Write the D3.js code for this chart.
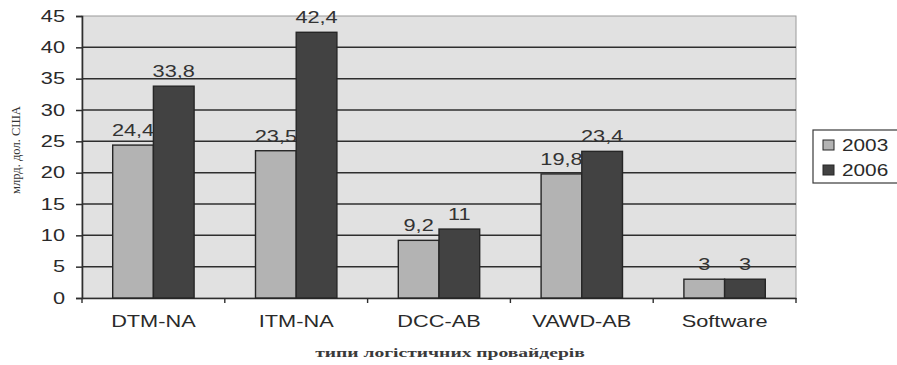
<!DOCTYPE html>
<html>
<head>
<meta charset="utf-8">
<script src="https://cdn.jsdelivr.net/npm/d3@7"></script>
<style>
  html, body { margin: 0; padding: 0; background: #fff; }
  svg { display: block; }
</style>
</head>
<body>
<svg id="chart" width="897" height="365"></svg>
<script>
// Logistics provider market volumes, billion USD
const categories = ["DTM-NA", "ITM-NA", "DCC-AB", "VAWD-AB", "Software"];
const seriesNames = ["2003", "2006"];
const values2003 = [24.4, 23.5, 9.2, 19.8, 3];
const values2006 = [33.8, 42.4, 11, 23.4, 3];
const yTicks = [0, 5, 10, 15, 20, 25, 30, 35, 40, 45];
const seriesColors = ["#b3b3b3", "#424242"];

const svg = d3.select("#chart");
const margin = { left: 82, right: 101, top: 16, bottom: 67 };
const W = 897, H = 365;
const x0 = margin.left, x1 = W - margin.right;
const yTop = margin.top, yBot = H - margin.bottom;

const x = d3.scaleBand().domain(categories).range([x0, x1]).paddingInner(0).paddingOuter(0);
const y = d3.scaleLinear().domain([0, 45]).range([yBot, yTop]);
// Bars take 81/143 of each slot, centered
const groupFrac = 0.57;
const xs = d3.scaleBand().domain(seriesNames).range([0, x.bandwidth() * groupFrac]);
const groupOffset = (x.bandwidth() * (1 - groupFrac)) / 2;

const font = "'Liberation Sans', Arial, sans-serif";
const serif = "'Liberation Serif', 'DejaVu Serif', serif";
const stretch = 1.36; // wide lettering, stretched horizontally about its anchor

// Stretch a text element horizontally around its own x anchor
function widen(sel, s) {
  sel.each(function () {
    const t = d3.select(this);
    const ax = +(t.attr("x") || 0);
    t.attr("transform", `translate(${ax},0) scale(${s},1) translate(${-ax},0)`);
  });
}

// Plot background
svg.append("rect")
  .attr("x", x0).attr("y", yTop)
  .attr("width", x1 - x0).attr("height", yBot - yTop)
  .attr("fill", "#e1e1e1")
  .attr("stroke", "#9a9a9a").attr("stroke-width", 1);

// Gridlines
svg.append("g")
  .selectAll("line")
  .data(yTicks.filter(d => d > 0 && d < 45))
  .join("line")
  .attr("x1", x0).attr("x2", x1)
  .attr("y1", d => y(d)).attr("y2", d => y(d))
  .attr("stroke", "#2e2e2e").attr("stroke-width", 1.5);

// Y axis
const yAxis = svg.append("g")
  .attr("transform", `translate(${x0},0)`)
  .call(d3.axisLeft(y).tickValues(yTicks).tickSize(6).tickPadding(11));
yAxis.select(".domain").attr("stroke", "#2e2e2e").attr("stroke-width", 1.6);
yAxis.selectAll(".tick line").attr("stroke", "#2e2e2e").attr("stroke-width", 1.5);
yAxis.selectAll(".tick text")
  .attr("font-family", font).attr("font-size", 16).attr("fill", "#2a2a2a")
  .call(widen, stretch);

// X axis
const xAxis = svg.append("g")
  .attr("transform", `translate(0,${yBot})`)
  .call(d3.axisBottom(x).tickSize(0).tickPadding(18));
xAxis.select(".domain").attr("stroke", "#2e2e2e").attr("stroke-width", 1.6);
xAxis.selectAll(".tick text")
  .attr("font-family", font).attr("font-size", 16).attr("fill", "#2a2a2a")
  .call(widen, stretch);
// Category separator ticks
svg.append("g")
  .selectAll("line")
  .data(categories.concat(["__end"]))
  .join("line")
  .attr("x1", (d, i) => i < categories.length ? x(d) : x1)
  .attr("x2", (d, i) => i < categories.length ? x(d) : x1)
  .attr("y1", yBot).attr("y2", yBot + 5)
  .attr("stroke", "#2e2e2e").attr("stroke-width", 1.4);

// Bars
const rows = categories.map((c, i) => ({ cat: c, vals: [values2003[i], values2006[i]] }));
const groups = svg.append("g").selectAll("g")
  .data(rows).join("g")
  .attr("transform", d => `translate(${x(d.cat) + groupOffset},0)`);

groups.selectAll("rect")
  .data(d => d.vals.map((v, j) => ({ s: seriesNames[j], v, j })))
  .join("rect")
  .attr("x", d => xs(d.s))
  .attr("y", d => y(d.v))
  .attr("width", xs.bandwidth())
  .attr("height", d => yBot - y(d.v))
  .attr("fill", d => seriesColors[d.j])
  .attr("stroke", "#262626").attr("stroke-width", 1.4);

groups.selectAll("text")
  .data(d => d.vals.map((v, j) => ({ s: seriesNames[j], v })))
  .join("text")
  .attr("x", d => xs(d.s) + xs.bandwidth() / 2)
  .attr("y", d => y(d.v) - 9)
  .attr("text-anchor", "middle")
  .attr("font-family", font).attr("font-size", 16).attr("fill", "#333")
  .text(d => String(d.v).replace(".", ","))
  .call(widen, stretch);

// Axis titles
svg.append("text")
  .attr("transform", `translate(20,150) rotate(-90)`)
  .attr("text-anchor", "middle")
  .attr("font-family", serif)
  .attr("font-size", 12.5).attr("fill", "#333")
  .text("млрд. дол. США");

svg.append("text")
  .attr("x", 450).attr("y", 357)
  .attr("text-anchor", "middle")
  .attr("font-family", serif)
  .attr("font-size", 13.5).attr("font-weight", "bold").attr("fill", "#3a3a3a")
  .text("типи логістичних провайдерів")
  .call(widen, 1.45);

// Legend
const lg = svg.append("g").attr("transform", "translate(813,130)");
lg.append("rect")
  .attr("x", 0).attr("y", 0).attr("width", 90).attr("height", 53)
  .attr("fill", "#fff").attr("stroke", "#3a3a3a").attr("stroke-width", 1.2);
seriesNames.forEach((s, i) => {
  const yy = 15 + i * 25;
  lg.append("rect")
    .attr("x", 10).attr("y", yy - 5).attr("width", 11).attr("height", 10)
    .attr("fill", seriesColors[i]).attr("stroke", "#262626").attr("stroke-width", 1);
  lg.append("text")
    .attr("x", 29).attr("y", yy + 6)
    .attr("font-family", font).attr("font-size", 16).attr("fill", "#2a2a2a")
    .text(s)
    .call(widen, 1.3);
});
</script>
</body>
</html>
